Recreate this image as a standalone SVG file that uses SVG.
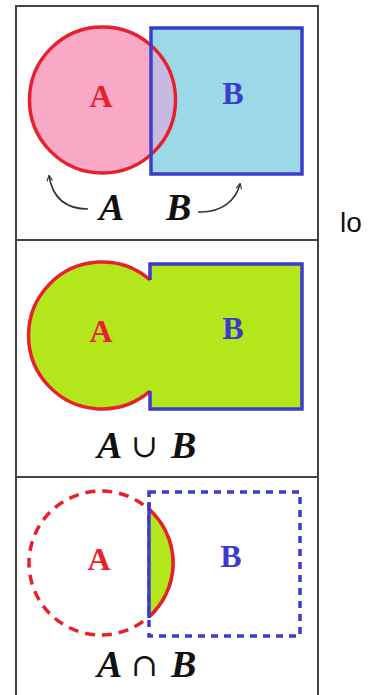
<svg xmlns="http://www.w3.org/2000/svg" width="372" height="695" viewBox="0 0 372 695">
  <style>
    .frame { fill: none; stroke: #444; stroke-width: 2; }
    .red-line { fill: none; stroke: #e8202a; stroke-width: 3.5; }
    .blue-line { fill: none; stroke: #3c3ccc; stroke-width: 3.5; }
    .lbl { font-family: "Liberation Serif", "DejaVu Serif", serif; font-weight: bold; font-size: 32px; text-anchor: middle; }
    .lbl-a { fill: #e8202a; }
    .lbl-b { fill: #3c3ccc; }
    .expr { font-family: "Liberation Serif", "DejaVu Serif", serif; font-weight: bold; font-style: italic; font-size: 38px; fill: #111; }
    .op { font-family: "DejaVu Serif", "Liberation Serif", serif; font-size: 32px; fill: #111; }
    .curve { fill: none; stroke: #333; stroke-width: 1.6; }
  </style>
  <defs>
    <marker id="head" viewBox="0 0 10 10" refX="8" refY="5" markerWidth="7" markerHeight="7" orient="auto" markerUnits="userSpaceOnUse">
      <path d="M1,1 L9,5 L1,9" fill="none" stroke="#333" stroke-width="1.6"/>
    </marker>
    <clipPath id="rectB1">
      <rect x="151" y="28" width="151" height="146"/>
    </clipPath>
  </defs>

  <rect width="372" height="695" fill="#fff"/>

  <!-- outer frame and dividers -->
  <g id="frame">
    <rect class="frame" x="16" y="6" width="302" height="700"/>
    <line class="frame" x1="16" y1="240" x2="318" y2="240"/>
    <line class="frame" x1="16" y1="477" x2="318" y2="477"/>
  </g>

  <!-- panel 1: the two sets -->
  <g id="panel-sets">
    <circle cx="102.5" cy="100" r="73" fill="#f9a9c5"/>
    <rect x="151" y="28" width="151" height="146" fill="#9bd8e8"/>
    <circle cx="102.5" cy="100" r="73" fill="#c6bae2" clip-path="url(#rectB1)"/>
    <circle class="red-line" cx="102.5" cy="100" r="73"/>
    <rect class="blue-line" x="151" y="28" width="151" height="146"/>
    <text class="lbl lbl-a" x="101" y="107">A</text>
    <text class="lbl lbl-b" x="233" y="104">B</text>
    <text class="expr" x="99" y="220">A</text>
    <text class="expr" x="166" y="220">B</text>
  </g>

  <!-- pointer curves from the set names to the shapes -->
  <g id="connectors">
    <path class="curve" d="M88,209 C68,209 53,200 49,176" marker-end="url(#head)"/>
    <path class="curve" d="M198,212 C222,213 236,200 240,184" marker-end="url(#head)"/>
  </g>

  <!-- panel 2: union -->
  <g id="panel-union">
    <path d="M150,280 L150,264 L302,264 L302,409 L150,409 L150,391.2 A73.5,73.5 0 1 1 150,279.8 Z" fill="#b4e61c"/>
    <path class="red-line" d="M150,391.2 A73.5,73.5 0 1 1 150,279.8"/>
    <path class="blue-line" d="M150,280 L150,264 L302,264 L302,409 L150,409 L150,391"/>
    <text class="lbl lbl-a" x="101" y="342">A</text>
    <text class="lbl lbl-b" x="233" y="339">B</text>
    <text class="expr" x="97" y="458">A</text>
    <text class="op" x="131" y="457">∪</text>
    <text class="expr" x="171" y="458">B</text>
  </g>

  <!-- panel 3: intersection -->
  <g id="panel-intersection">
    <circle class="red-line" cx="101" cy="563" r="72" stroke-width="4" stroke-dasharray="10 7"/>
    <rect class="blue-line" x="149" y="492" width="151" height="144" stroke-dasharray="7 6"/>
    <path d="M149,509.3 A72,72 0 0 1 149,616.7 Z" fill="#b4e61c"/>
    <path class="red-line" d="M149,509.3 A72,72 0 0 1 149,616.7"/>
    <line class="blue-line" x1="149" y1="502" x2="149" y2="618"/>
    <text class="lbl lbl-a" x="99" y="570">A</text>
    <text class="lbl lbl-b" x="231" y="567">B</text>
    <text class="expr" x="97" y="677">A</text>
    <text class="op" x="131" y="676">∩</text>
    <text class="expr" x="171" y="677">B</text>
  </g>

  <text x="340" y="232" font-family="Liberation Sans, Arial, sans-serif" font-size="28" fill="#111">lo</text>
</svg>
